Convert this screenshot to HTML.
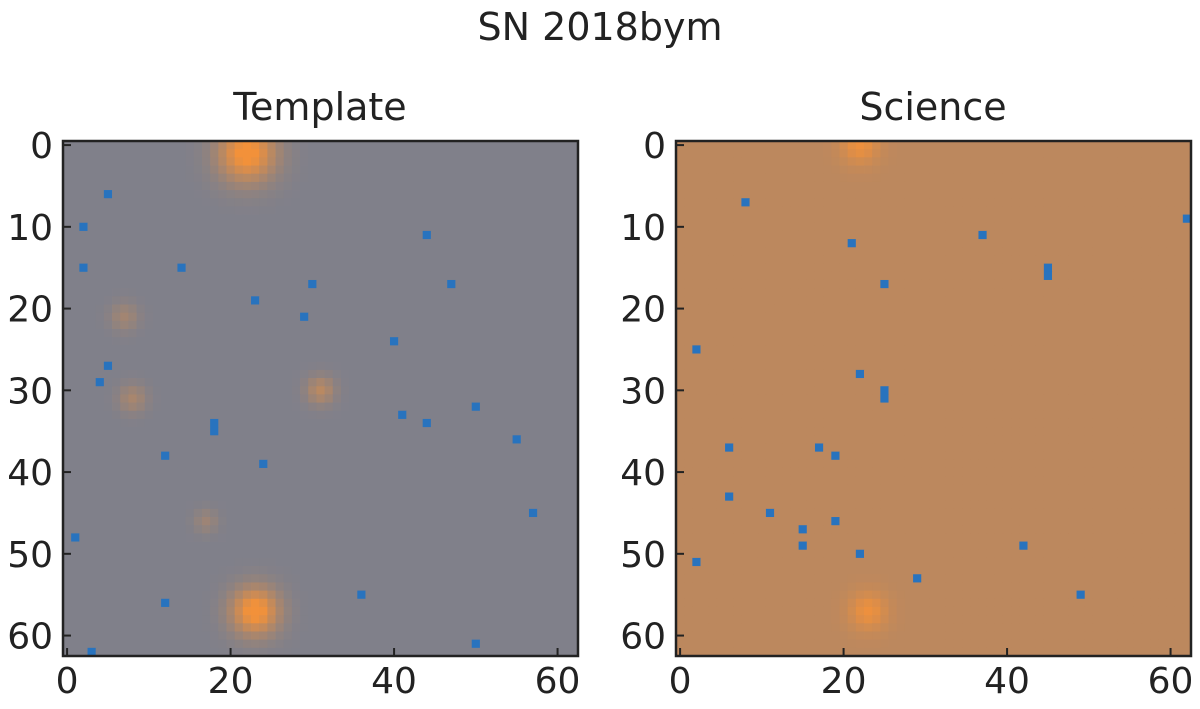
<!DOCTYPE html>
<html><head><meta charset="utf-8"><style>
body{margin:0;background:#fff;width:1200px;height:704px;overflow:hidden;font-family:"Liberation Sans","DejaVu Sans",sans-serif}
svg text{font-family:"DejaVu Sans","Liberation Sans",sans-serif;fill:#222}
</style></head><body>
<svg id="fig" width="1200" height="704">
<text x="600" y="40" font-size="38" text-anchor="middle">SN 2018bym</text>
<text x="320" y="120" font-size="38" text-anchor="middle">Template</text>
<text x="933" y="120" font-size="38" text-anchor="middle">Science</text>
</svg>
<script>
const N = 63;
const ticks = [0,10,20,30,40,50,60];
const xticks = [0,20,40,60];
// template panel data
const tplBase = [128,128,138];
const tplBlobs = [[22,1,1.1,2.4],[23,57,1.1,2.0],[31,30,0.5,1.2],[8,31,0.35,1.2],[7,21,0.3,1.2],[17,46,0.25,1.0]];
const tplDark = [[5,6],[2,10],[2,15],[14,15],[30,17],[23,19],[29,21],[40,24],[5,27],[4,29],[18,34],[18,35],[12,38],[24,39],[44,34],[55,36],[50,32],[41,33],[57,45],[12,56],[50,61],[3,62],[47,17],[36,55],[1,48],[44,11]];
// science panel data
const sciBase = [188,136,94];
const sciBlobs = [[22,0,0.9,1.6],[23,57,0.9,1.6]];
const sciDark = [[8,7],[37,11],[21,12],[45,15],[45,16],[25,17],[2,25],[22,28],[25,31],[25,30],[6,37],[17,37],[19,38],[6,43],[11,45],[15,47],[19,46],[15,49],[42,49],[22,50],[2,51],[29,53],[49,55],[62,9]];
const orange=[242,145,58], blue=[40,115,190];
const ns="http://www.w3.org/2000/svg";
const svg=document.getElementById('fig');
function mk(t,a){const e=document.createElementNS(ns,t);for(const k in a)e.setAttribute(k,a[k]);return e;}
function panel(x0,name,base,blobs,dark){
  const y0=141, cs=515/N;
  const sx=v=>x0+(v+0.5)*cs, sy=v=>y0+(v+0.5)*cs;
  const g=mk('g',{});
  
  
  svg.appendChild(g);
  const dk=new Set(dark.map(d=>d[0]+','+d[1]));
  for(let r=0;r<N;r++)for(let c=0;c<N;c++){
    let a=0;for(const b of blobs){a+=b[2]*Math.exp(-((c-b[0])**2+(r-b[1])**2)/(2*b[3]*b[3]));}
    a=Math.min(1,a);
    let col=base.map((v,i)=>Math.round(v+(orange[i]-v)*a));
    if(dk.has(c+','+r))col=blue;
    const e=mk('rect',{x:(sx(c-0.5)).toFixed(2),y:(sy(r-0.5)).toFixed(2),width:(cs+0.4).toFixed(2),height:(cs+0.4).toFixed(2),fill:`rgb(${col})`});
    
    
    g.appendChild(e);
  }
  const fr=mk('rect',{x:x0,y:y0,width:515,height:515,fill:'none',stroke:'#222','stroke-width':2.5});
  
  
  svg.appendChild(fr);
  for(const t of ticks){
    const l=mk('line',{x1:x0,x2:x0+8,y1:sy(t),y2:sy(t),stroke:'#222','stroke-width':2});
    
    
    svg.appendChild(l);
    const tx=mk('text',{x:x0-10,y:sy(t)+13,'font-size':36,'text-anchor':'end'});tx.textContent=t;
    
    
    svg.appendChild(tx);
  }
  for(const t of xticks){
    const l=mk('line',{x1:sx(t),x2:sx(t),y1:y0+515,y2:y0+507,stroke:'#222','stroke-width':2});
    
    
    svg.appendChild(l);
    const tx=mk('text',{x:sx(t),y:y0+552,'font-size':36,'text-anchor':'middle'});tx.textContent=t;
    
    
    svg.appendChild(tx);
  }
}
panel(63,'template',tplBase,tplBlobs,tplDark);
panel(676,'science',sciBase,sciBlobs,sciDark);
</script>
</body></html>
